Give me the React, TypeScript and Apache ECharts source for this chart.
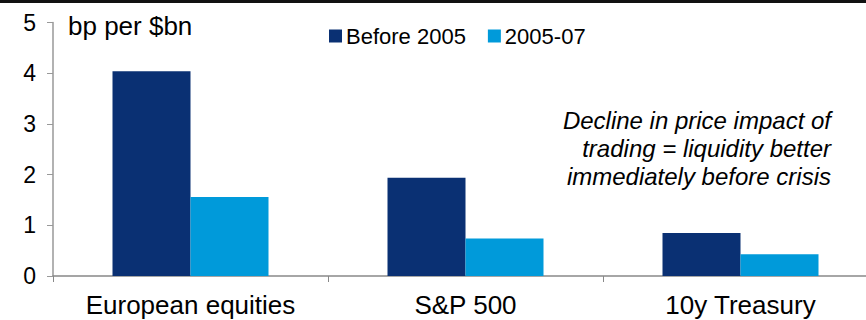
import React, { useEffect, useRef } from "react";
import * as echarts from "echarts";

const categories = ["European equities", "S&P 500", "10y Treasury"];
const before2005 = [4.04, 1.94, 0.85];
const y2005to07 = [1.56, 0.74, 0.43];
const seriesNames = ["Before 2005", "2005-07"];
const yTicks = [0, 1, 2, 3, 4, 5];
const unitLabel = "bp per $bn";
const annotation = ["Decline in price impact of", "trading = liquidity better", "immediately before crisis"];

const FONT = "'Liberation Sans', Arial, sans-serif";
const DARK = "#0A3073";
const LIGHT = "#009ADA";

export default function App() {
  const ref = useRef<HTMLDivElement>(null);
  useEffect(() => {
    if (!ref.current) return;
    const chart = echarts.init(ref.current, null, { renderer: "svg" });
    chart.setOption({
      animation: false,
      textStyle: { fontFamily: FONT },
      grid: { left: 53, top: 22.5, width: 825, height: 253.5, containLabel: false },
      legend: {
        left: 324,
        top: 20,
        itemWidth: 13,
        itemHeight: 13,
        itemGap: 22,
        icon: "rect",
        textStyle: { fontFamily: FONT, fontSize: 22, color: "#000", padding: [0, 0, 0, -1] },
        data: seriesNames,
      },
      xAxis: {
        type: "category",
        data: categories,
        axisLine: { lineStyle: { color: "#888", width: 1.5 } },
        axisTick: { show: true, length: 6, lineStyle: { color: "#888" } },
        axisLabel: { fontFamily: FONT, fontSize: 26, color: "#000", margin: 16 },
      },
      yAxis: {
        type: "value",
        min: yTicks[0],
        max: yTicks[yTicks.length - 1],
        interval: 1,
        splitLine: { show: false },
        axisLine: { show: true, lineStyle: { color: "#999", width: 1.5 } },
        axisTick: { show: true, length: 6, lineStyle: { color: "#999" } },
        axisLabel: { fontFamily: FONT, fontSize: 23, color: "#000", margin: 17 },
      },
      series: [
        {
          name: seriesNames[0],
          type: "bar",
          data: before2005,
          barWidth: 78,
          barGap: "0%",
          itemStyle: { color: DARK },
        },
        {
          name: seriesNames[1],
          type: "bar",
          data: y2005to07,
          barWidth: 78,
          barGap: "0%",
          itemStyle: { color: LIGHT },
        },
      ],
      graphic: [
        {
          type: "line",
          shape: { x1: 0, y1: 1.5, x2: 866, y2: 1.5 },
          style: { stroke: "#111", lineWidth: 3 },
        },
        {
          type: "text",
          left: 68,
          top: 13,
          style: { text: unitLabel, fontFamily: FONT, fontSize: 26, fill: "#000" },
        },
        {
          type: "text",
          x: 831,
          y: 106,
          style: {
            text: annotation.join("\n"),
            fontFamily: FONT,
            fontSize: 24,
            fontStyle: "italic",
            fill: "#000",
            align: "right",
            verticalAlign: "top",
            lineHeight: 28,
          },
        },
      ],
    });
    return () => chart.dispose();
  }, []);
  return (
    <div style={{ position: "absolute", left: 0, top: 0, width: 866, height: 320, overflow: "hidden" }}>
      <div ref={ref} style={{ width: 880, height: 320 }} />
    </div>
  );
}
